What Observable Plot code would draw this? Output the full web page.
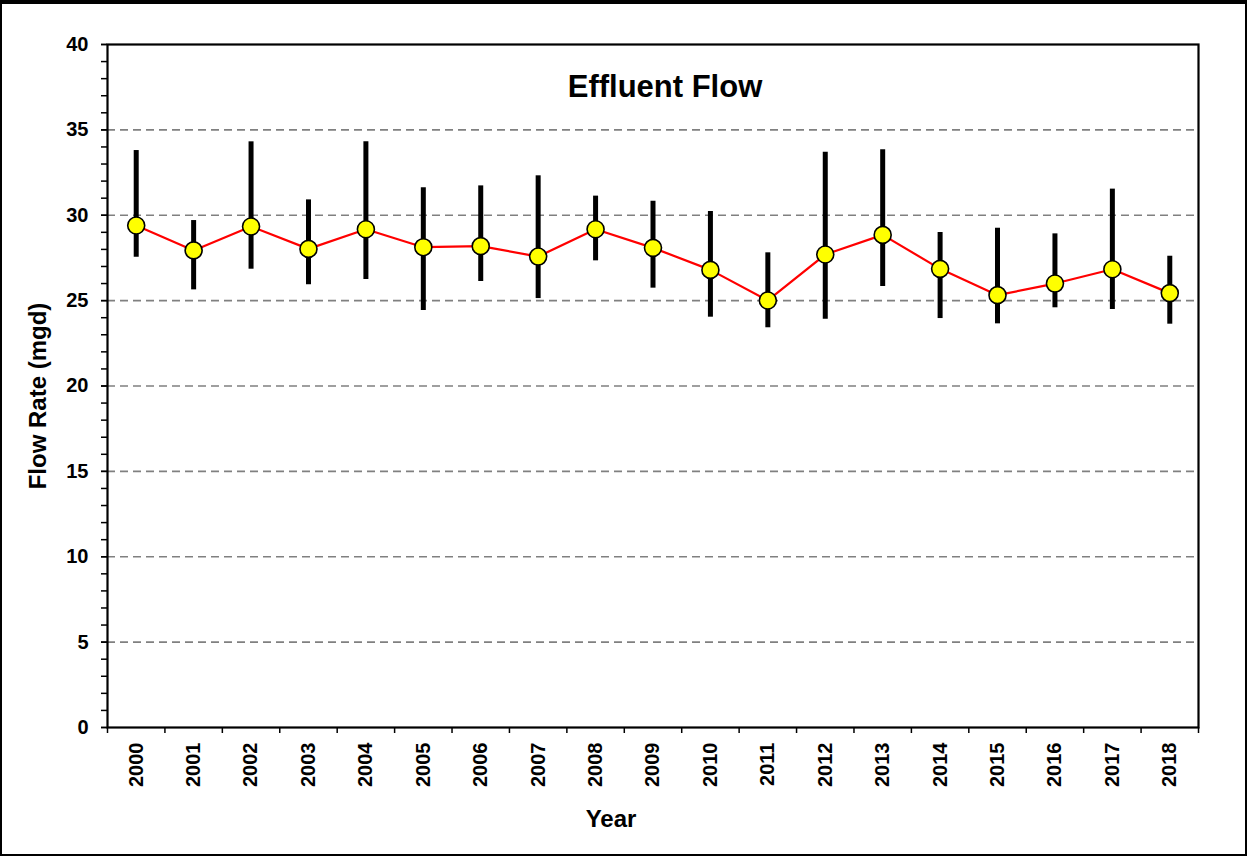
<!DOCTYPE html>
<html>
<head>
<meta charset="utf-8">
<script src="https://cdn.jsdelivr.net/npm/d3@7"></script>
<script src="https://cdn.jsdelivr.net/npm/@observablehq/plot@0.6"></script>
<style>
  html, body { margin: 0; padding: 0; background: #fff; }
  #wrap { position: relative; width: 1247px; height: 856px; overflow: hidden; }
  #border { position: absolute; left: 0; top: 0; width: 1247px; height: 856px; box-sizing: border-box;
            border-top: 4px solid #000; border-left: 2px solid #000; border-right: 2px solid #000; border-bottom: 2px solid #000;
            pointer-events: none; }
  svg { display: block; }
</style>
</head>
<body>
<div id="wrap"><div id="border"></div></div>
<script>
const years = [2000, 2001, 2002, 2003, 2004, 2005, 2006, 2007, 2008, 2009, 2010, 2011, 2012, 2013, 2014, 2015, 2016, 2017, 2018];
const meanFlow = [29.40, 27.94, 29.34, 28.03, 29.18, 28.13, 28.19, 27.58, 29.18, 28.09, 26.80, 25.01, 27.70, 28.85, 26.86, 25.32, 26.00, 26.84, 25.44];
const maxFlow  = [33.79, 29.69, 34.30, 30.90, 34.30, 31.61, 31.72, 32.31, 31.12, 30.82, 30.22, 27.80, 33.69, 33.83, 28.99, 29.24, 28.91, 31.53, 27.60];
const minFlow  = [27.54, 25.63, 26.84, 25.93, 26.24, 24.42, 26.12, 25.12, 27.33, 25.73, 24.03, 23.41, 23.91, 25.83, 23.95, 23.64, 24.58, 24.48, 23.62];
const yMajorTicks = [0, 5, 10, 15, 20, 25, 30, 35, 40];
const yMinorTicks = d3.range(0, 41, 1);
const gridValues = [5, 10, 15, 20, 25, 30, 35];
const titleText = "Effluent Flow";
const yTitle = "Flow Rate (mgd)";
const xTitle = "Year";

const data = years.map((y, i) => ({year: y, mean: meanFlow[i], max: maxFlow[i], min: minFlow[i]}));
const boundaries = years.map(y => y - 0.5).concat([years[years.length - 1] + 0.5]);

const font = "'Liberation Sans', Arial, Helvetica, sans-serif";

const chart = Plot.plot({
  width: 1247,
  height: 856,
  marginLeft: 107,
  marginRight: 49,
  marginTop: 44,
  marginBottom: 129,
  style: {fontFamily: font, fontWeight: "bold", fontSize: "20px", color: "#000", background: "transparent"},
  x: {domain: [years[0] - 0.5, years[years.length - 1] + 0.5]},
  y: {domain: [0, 40]},
  marks: [
    Plot.gridY(gridValues, {stroke: "#808080", strokeOpacity: 1, strokeWidth: 1.6, strokeDasharray: "8,5"}),
    Plot.axisY(yMinorTicks, {tickSize: 6, tickFormat: () => "", strokeWidth: 1.5, label: null}),
    Plot.axisY(yMajorTicks, {tickSize: 6, tickPadding: 13, strokeWidth: 1.5, fontSize: 20, fontWeight: "bold", label: null}),
    Plot.axisX(boundaries, {tickSize: 6, tickFormat: () => "", strokeWidth: 1.5, label: null}),
    Plot.axisX(years, {tickSize: 0, tickPadding: 15, tickRotate: -90, tickFormat: d => String(d), fontSize: 20, fontWeight: "bold", label: null}),
    Plot.frame({stroke: "#000", strokeWidth: 2.2}),
    Plot.ruleX(data, {x: "year", y1: "min", y2: "max", stroke: "#000", strokeWidth: 5}),
    Plot.line(data, {x: "year", y: "mean", stroke: "#FF0000", strokeWidth: 2.2}),
    Plot.dot(data, {x: "year", y: "mean", r: 8.5, fill: "#FFFF00", stroke: "#000", strokeWidth: 1.6}),
    Plot.text([titleText], {frameAnchor: "top", dx: 12, dy: 43, text: d => d, fontSize: 31, fontWeight: "bold", fill: "#000", lineAnchor: "middle", textAnchor: "middle"}),
    Plot.text([yTitle], {frameAnchor: "left", dx: -69, dy: 10, rotate: -90, text: d => d, fontSize: 24, fontWeight: "bold", fill: "#000", lineAnchor: "middle", textAnchor: "middle"}),
    Plot.text([xTitle], {frameAnchor: "bottom", dx: -42, dy: 92, text: d => d, fontSize: 24, fontWeight: "bold", fill: "#000", lineAnchor: "middle", textAnchor: "middle"})
  ]
});

document.getElementById("wrap").insertBefore(chart, document.getElementById("border"));
</script>
</body>
</html>
